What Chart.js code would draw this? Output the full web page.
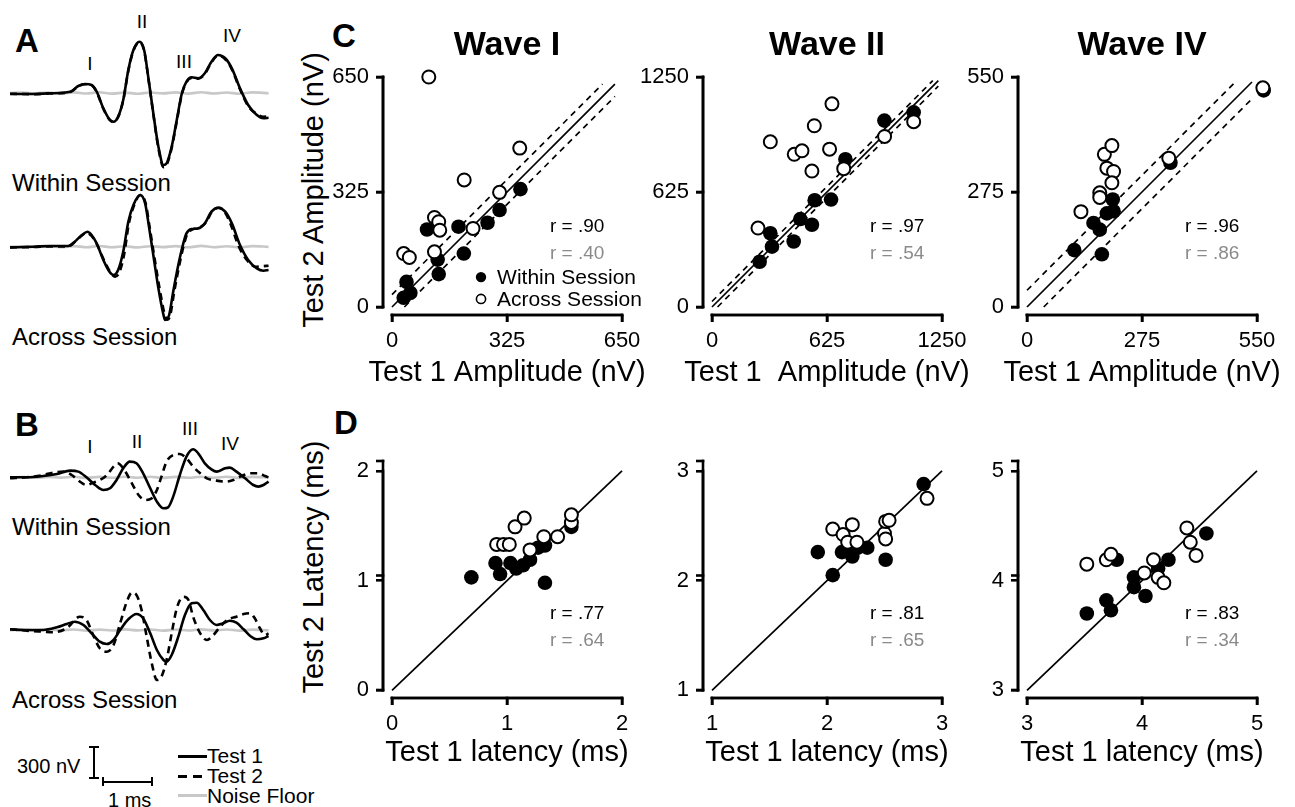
<!DOCTYPE html>
<html lang="en">
<head>
<meta charset="UTF-8" />
<title>ABR test-retest reliability</title>
<script src="https://cdn.jsdelivr.net/npm/chart.js"></script>
<style>
  body { margin: 0; background: #fff; font-family: "Liberation Sans", Arial, Helvetica, sans-serif; color: #000; }
  #fig { position: relative; width: 1295px; height: 807px; overflow: hidden; }
  .box { position: absolute; }
  .lbl { position: absolute; white-space: nowrap; line-height: 1; }
  .panel { font-weight: bold; font-size: 33px; }
  .sess { font-size: 24px; }
  .wave { font-size: 19px; transform: translateX(-50%); }
  .ytitle { font-size: 29px; transform: translate(-50%, -50%) rotate(-90deg); }
  .leg { font-size: 21px; }
  .bar { position: absolute; background: #000; }
  #axes { position: absolute; left: 0; top: 0; z-index: 10; pointer-events: none; }
</style>
</head>
<body>
<div id="fig">
  <!-- panel letters -->
  <div class="lbl panel" style="left:15px;top:24px">A</div>
  <div class="lbl panel" style="left:15px;top:408px">B</div>
  <div class="lbl panel" style="left:332px;top:19px">C</div>
  <div class="lbl panel" style="left:334px;top:406px">D</div>

  <!-- wave labels -->
  <div class="lbl wave" style="left:90px;top:54px">I</div>
  <div class="lbl wave" style="left:142px;top:12px">II</div>
  <div class="lbl wave" style="left:184px;top:52px">III</div>
  <div class="lbl wave" style="left:232px;top:26px">IV</div>
  <div class="lbl wave" style="left:90px;top:437px">I</div>
  <div class="lbl wave" style="left:137px;top:432px">II</div>
  <div class="lbl wave" style="left:190px;top:419px">III</div>
  <div class="lbl wave" style="left:230px;top:434px">IV</div>

  <div class="lbl sess" style="left:12px;top:171px">Within Session</div>
  <div class="lbl sess" style="left:12px;top:325px">Across Session</div>
  <div class="lbl sess" style="left:12px;top:515px">Within Session</div>
  <div class="lbl sess" style="left:12px;top:688px">Across Session</div>

  <!-- shared y titles -->
  <div class="lbl ytitle" style="left:313px;top:190px">Test 2 Amplitude (nV)</div>
  <div class="lbl ytitle" style="left:313px;top:567px">Test 2 Latency (ms)</div>

  <!-- scale bar -->
  <div class="lbl leg" style="left:17px;top:756px;font-size:20px">300 nV</div>
  <div class="bar" style="left:93px;top:747px;width:2px;height:31px"></div>
  <div class="bar" style="left:89px;top:746px;width:10px;height:2px"></div>
  <div class="bar" style="left:89px;top:777px;width:10px;height:2px"></div>
  <div class="bar" style="left:102px;top:781px;width:51px;height:2px"></div>
  <div class="bar" style="left:102px;top:777px;width:2px;height:9px"></div>
  <div class="bar" style="left:151px;top:777px;width:2px;height:9px"></div>
  <div class="lbl" style="left:108px;top:790px;font-size:20px">1 ms</div>

  <!-- trace legend -->
  <div class="bar" style="left:178px;top:755px;width:29px;height:2.5px"></div>
  <div class="lbl leg" style="left:207px;top:745px">Test 1</div>
  <div class="bar" style="left:178px;top:775px;width:9px;height:2.5px"></div>
  <div class="bar" style="left:193px;top:775px;width:9px;height:2.5px"></div>
  <div class="lbl leg" style="left:207px;top:765px">Test 2</div>
  <div class="bar" style="left:178px;top:794px;width:29px;height:3px;background:#c8c8c8"></div>
  <div class="lbl leg" style="left:207px;top:785px">Noise Floor</div>
</div>

<script>
  // ---------- waveform data: [time (ms), amplitude (nV)] ----------
  const aWithinTest1 = [[0.00,-10],[0.46,-10],[0.78,-3],[1.18,13],[1.34,70],[1.47,90],[1.60,80],[1.70,13],[1.83,-153],[1.95,-263],[2.03,-287],[2.12,-237],[2.22,-70],[2.32,230],[2.42,430],[2.54,513],[2.63,430],[2.71,163],[2.81,-203],[2.91,-537],[3.01,-720],[3.07,-703],[3.17,-537],[3.27,-270],[3.37,-3],[3.46,113],[3.56,157],[3.69,147],[3.82,197],[3.95,313],[4.08,380],[4.22,347],[4.35,247],[4.51,47],[4.67,-120],[4.84,-220],[4.97,-253],[5.07,-247]];
  const aWithinTest2 = [[0.00,-7],[0.46,-12],[0.78,-5],[1.18,10],[1.34,67],[1.47,87],[1.60,77],[1.70,10],[1.83,-157],[1.95,-267],[2.03,-290],[2.12,-240],[2.22,-73],[2.32,223],[2.42,423],[2.54,507],[2.63,423],[2.71,157],[2.81,-210],[2.91,-553],[3.01,-743],[3.07,-720],[3.17,-550],[3.27,-283],[3.37,-13],[3.46,107],[3.56,150],[3.69,143],[3.82,190],[3.95,307],[4.08,373],[4.22,337],[4.35,237],[4.51,37],[4.67,-130],[4.84,-210],[4.97,-237],[5.07,-233]];
  const aAcrossTest1 = [[0.00,-7],[0.46,0],[0.78,7],[1.14,7],[1.27,50],[1.41,117],[1.52,150],[1.60,117],[1.70,33],[1.83,-133],[1.95,-250],[2.03,-283],[2.12,-233],[2.22,-50],[2.32,250],[2.42,417],[2.55,517],[2.65,433],[2.73,183],[2.81,-83],[2.91,-417],[3.01,-683],[3.04,-733],[3.12,-683],[3.20,-450],[3.30,-183],[3.39,17],[3.46,133],[3.56,177],[3.69,183],[3.82,233],[3.95,350],[4.08,390],[4.22,350],[4.35,233],[4.51,17],[4.67,-133],[4.84,-217],[4.97,-240],[5.07,-233]];
  const aAcrossTest2 = [[0.00,-7],[0.46,-3],[0.78,3],[1.14,3],[1.27,47],[1.41,113],[1.50,140],[1.60,107],[1.70,27],[1.83,-120],[1.95,-240],[2.06,-300],[2.15,-250],[2.24,-70],[2.33,230],[2.43,410],[2.56,517],[2.66,433],[2.74,187],[2.82,-70],[2.93,-410],[3.04,-690],[3.09,-730],[3.14,-690],[3.22,-450],[3.32,-183],[3.41,20],[3.48,133],[3.58,173],[3.71,190],[3.84,240],[3.97,357],[4.10,390],[4.22,340],[4.33,220],[4.48,10],[4.64,-130],[4.81,-200],[4.95,-195],[5.07,-190]];

  const bWithinTest1 = [[0.00,0],[0.33,0],[0.65,13],[0.92,33],[1.18,67],[1.34,57],[1.50,0],[1.67,-77],[1.83,-127],[1.96,-110],[2.09,-27],[2.22,90],[2.35,157],[2.48,140],[2.61,40],[2.75,-110],[2.88,-243],[3.01,-310],[3.10,-300],[3.20,-193],[3.33,23],[3.46,207],[3.59,280],[3.69,240],[3.82,140],[3.95,80],[4.05,57],[4.22,90],[4.31,97],[4.44,57],[4.61,-10],[4.77,-77],[4.87,-93],[4.97,-77],[5.07,-43]];
  const bWithinTest2 = [[0.00,-10],[0.33,0],[0.65,23],[0.85,47],[1.05,57],[1.21,23],[1.37,-43],[1.50,-77],[1.63,-53],[1.76,-27],[1.90,23],[2.03,107],[2.11,140],[2.22,90],[2.39,-60],[2.52,-177],[2.65,-227],[2.78,-210],[2.88,-127],[2.97,7],[3.07,157],[3.20,223],[3.33,233],[3.46,190],[3.59,107],[3.73,40],[3.86,-10],[4.05,-33],[4.25,-43],[4.38,-27],[4.54,13],[4.71,40],[4.87,40],[5.00,13],[5.07,0]];
  const bAcrossTest1 = [[0.00,7],[0.33,0],[0.65,0],[0.92,27],[1.11,60],[1.27,83],[1.44,50],[1.60,-33],[1.76,-117],[1.90,-140],[2.03,-100],[2.16,0],[2.32,107],[2.48,160],[2.61,117],[2.75,-33],[2.88,-200],[3.01,-300],[3.07,-317],[3.17,-250],[3.30,-67],[3.43,150],[3.56,267],[3.66,273],[3.79,200],[3.92,100],[4.05,50],[4.18,67],[4.31,93],[4.44,73],[4.58,7],[4.71,-60],[4.84,-93],[4.97,-83],[5.07,-60]];
  const bAcrossTest2 = [[0.00,7],[0.33,-7],[0.65,-17],[0.85,-23],[1.11,17],[1.37,133],[1.50,100],[1.63,-50],[1.76,-183],[1.90,-217],[2.03,-150],[2.16,67],[2.29,283],[2.39,373],[2.48,350],[2.58,200],[2.68,-67],[2.78,-333],[2.88,-500],[2.97,-467],[3.07,-300],[3.17,-33],[3.27,217],[3.40,333],[3.50,300],[3.59,133],[3.73,-33],[3.86,-100],[3.99,-50],[4.12,33],[4.28,107],[4.44,133],[4.58,160],[4.71,167],[4.80,117],[4.90,17],[5.00,-50],[5.07,-33]];

  const noiseA = [[0.00,0],[0.25,4],[0.50,-3],[0.75,5],[1.00,-4],[1.25,6],[1.50,-5],[1.75,7],[2.00,-6],[2.25,4],[2.50,-7],[2.75,5],[3.00,-4],[3.25,6],[3.50,-6],[3.75,8],[4.00,-5],[4.25,5],[4.50,-7],[4.75,6],[5.07,-2]];
  const noiseB = [[0.00,-3],[0.25,3],[0.50,-5],[0.75,4],[1.00,-3],[1.25,5],[1.50,-6],[1.75,4],[2.00,-5],[2.25,6],[2.50,-4],[2.75,5],[3.00,-6],[3.25,4],[3.50,-5],[3.75,6],[4.00,-4],[4.25,5],[4.50,-6],[4.75,4],[5.07,-3]];

  // ---------- scatter data: [test 1, test 2] ----------
  const waveNames = ['Wave I', 'Wave II', 'Wave IV'];
  const ampTicks = [[0, 325, 650], [0, 625, 1250], [0, 275, 550]];
  const latTicks = [[0, 1, 2], [1, 2, 3], [3, 4, 5]];
  const ampBand = [35, 30, 40];
  const ampLineEnd = [630, 1230, 538];
  const ampR = [['.90', '.40'], ['.97', '.54'], ['.96', '.86']];
  const latR = [['.77', '.64'], ['.81', '.65'], ['.83', '.34']];
  const ampXTitles = ['Test 1 Amplitude (nV)', 'Test 1  Amplitude (nV)', 'Test 1 Amplitude (nV)'];
  const latXTitle = 'Test 1 latency (ms)';

  const ampIWithin = [[33,26],[52,40],[41,71],[99,219],[129,134],[132,93],[188,227],[203,151],[270,238],[304,274],[363,333]];
  const ampIAcross = [[104,650],[361,449],[204,359],[304,324],[120,253],[132,241],[135,217],[229,222],[120,156],[33,151],[49,140]];
  const ampIIWithin = [[259,246],[317,401],[326,328],[444,356],[480,478],[543,447],[558,580],[647,584],[725,803],[937,1013],[1096,1058]];
  const ampIIAcross = [[250,429],[317,898],[447,830],[489,849],[556,985],[543,739],[639,858],[652,1104],[716,752],[938,927],[1096,1007]];
  const ampIVWithin = [[113,136],[159,201],[174,185],[179,126],[191,224],[205,257],[207,229],[343,345],[566,518]];
  const ampIVAcross = [[129,228],[174,273],[174,262],[185,365],[203,386],[191,332],[207,324],[203,297],[339,356],[564,524]];

  const latIWithin = [[0.69,1.03],[0.90,1.16],[0.94,1.06],[1.03,1.16],[1.08,1.11],[1.14,1.14],[1.20,1.19],[1.27,1.30],[1.33,1.32],[1.33,0.98],[1.56,1.49]];
  const latIAcross = [[0.91,1.33],[0.97,1.33],[1.02,1.33],[1.07,1.49],[1.15,1.57],[1.20,1.28],[1.32,1.40],[1.44,1.40],[1.56,1.53],[1.56,1.60]];
  const latIIWithin = [[1.92,2.26],[2.05,2.05],[2.13,2.26],[2.20,2.26],[2.22,2.22],[2.27,2.30],[2.35,2.30],[2.51,2.19],[2.84,2.88]];
  const latIIAcross = [[2.05,2.47],[2.14,2.42],[2.22,2.51],[2.18,2.35],[2.26,2.35],[2.50,2.43],[2.51,2.38],[2.51,2.54],[2.54,2.55],[2.87,2.75]];
  const latIVWithin = [[3.52,3.70],[3.69,3.82],[3.73,3.73],[3.78,4.19],[3.93,4.03],[3.93,3.94],[4.03,3.86],[4.14,4.11],[4.23,4.19],[4.56,4.43]];
  const latIVAcross = [[3.52,4.15],[3.69,4.19],[3.73,4.24],[4.02,4.07],[4.10,4.19],[4.14,4.03],[4.19,3.98],[4.39,4.48],[4.42,4.35],[4.47,4.23]];

  // ---------- layout ----------
  const FONT = '"Liberation Sans", Arial, Helvetica, sans-serif';
  Chart.defaults.font.family = FONT;
  Chart.defaults.color = '#000';

  const fig = document.getElementById('fig');
  const xy = (arr) => arr.map(([x, y]) => ({ x, y }));

  function addCanvas(left, top, width, height) {
    const div = document.createElement('div');
    div.className = 'box';
    div.style.cssText = `left:${left}px;top:${top}px;width:${width}px;height:${height}px`;
    const c = document.createElement('canvas');
    div.appendChild(c);
    fig.appendChild(div);
    return c;
  }

  // waveform panels (A, B): 51 px per ms, 10 nV per px
  const PX_MS = 51, NV_PX = 10;
  function wavePanel(top, height, baseline, t1, t2, noise) {
    const c = addCanvas(10, top, 260, height);
    const yMax = (baseline - top) * NV_PX;
    new Chart(c, {
      type: 'line',
      data: {
        datasets: [
          { label: 'Test 1', data: xy(t1), borderColor: '#000', borderWidth: 2.6, order: 0 },
          { label: 'Test 2', data: xy(t2), borderColor: '#000', borderWidth: 2.6, borderDash: [7, 5], order: 1 },
          { label: 'Noise Floor', data: xy(noise), borderColor: '#c8c8c8', borderWidth: 2.6, order: 2 },
        ],
      },
      options: {
        responsive: true, maintainAspectRatio: false, animation: false, events: [],
        layout: { padding: 0 },
        datasets: { line: { clip: false } },
        elements: { point: { radius: 0 }, line: { cubicInterpolationMode: 'monotone' } },
        scales: {
          x: { type: 'linear', display: false, min: 0, max: 260 / PX_MS },
          y: { display: false, min: yMax - height * NV_PX, max: yMax },
        },
        plugins: { legend: { display: false }, tooltip: { enabled: false } },
      },
    });
  }
  wavePanel(20, 160, 93, aWithinTest1, aWithinTest2, noiseA);
  wavePanel(175, 160, 246.7, aAcrossTest1, aAcrossTest2, noiseA);
  wavePanel(420, 120, 477.3, bWithinTest1, bWithinTest2, noiseB);
  wavePanel(570, 130, 630, bAcrossTest1, bAcrossTest2, noiseB);

  // scatter panels (C, D)
  const cols = [[392, 622], [712, 942], [1027, 1257]];
  const GAPX = 9, GAPY = 8, GAPT = 7, YAXW = 75, PADR = 24, TICK = 7, LW = 2.6;

  // x title, r values and the in-plot legend
  const annot = {
    id: 'annot',
    afterDraw(chart, args, o) {
      const { ctx, chartArea: ca, scales: { x, y } } = chart;
      const [t0, t1] = o.range;
      const fx = (f) => x.getPixelForValue(t0 + f * (t1 - t0));
      const fy = (f) => y.getPixelForValue(t1 - f * (t1 - t0));
      ctx.save();
      ctx.fillStyle = '#000';
      ctx.textBaseline = 'middle';
      ctx.textAlign = 'center';
      ctx.font = '29px ' + FONT;
      ctx.fillText(o.xTitle, fx(0.5), ca.bottom + o.titleDy);

      ctx.textAlign = 'left';
      ctx.font = '19px ' + FONT;
      ctx.fillText('r = ' + o.r[0], fx(0.687), fy(0.652));
      ctx.fillStyle = '#8a8a8a';
      ctx.fillText('r = ' + o.r[1], fx(0.687), fy(0.652) + 27);

      if (o.legend) {
        ctx.font = '21px ' + FONT;
        ctx.fillStyle = '#000';
        ctx.strokeStyle = '#000';
        const lx = fx(0.387), tx = fx(0.457);
        const y1 = fy(0.87), y2 = fy(0.965);
        ctx.beginPath(); ctx.arc(lx, y1, 5.2, 0, Math.PI * 2); ctx.fill();
        ctx.fillText('Within Session', tx, y1 + 1);
        ctx.lineWidth = 1.6;
        ctx.beginPath(); ctx.arc(lx, y2, 4.6, 0, Math.PI * 2);
        ctx.fillStyle = '#fff'; ctx.fill(); ctx.stroke();
        ctx.fillStyle = '#000';
        ctx.fillText('Across Session', tx, y2 + 1);
      }
      ctx.restore();
    },
  };

  // detached spines + outward ticks, collected into one overlay drawn last
  const axisSegs = [];
  function collectSpines(pl, pr, pt, pb, ticks) {
    const t0 = ticks[0], t1 = ticks[ticks.length - 1];
    const px = (v) => pl + (v - t0) / (t1 - t0) * (pr - pl);
    const py = (v) => pb - (v - t0) / (t1 - t0) * (pb - pt);
    const yl = pl - GAPX, xb = pb + GAPY, h = LW / 2;
    axisSegs.push([yl, pt - h, yl, pb + h]);
    axisSegs.push([pl - h, xb, pr + h, xb]);
    ticks.forEach((v) => {
      axisSegs.push([yl - TICK, py(v), yl + h, py(v)]);
      axisSegs.push([px(v), xb - h, px(v), xb + TICK]);
    });
  }

  function scatterPanel(o) {
    const [pl, pr] = cols[o.col];
    const [pt, pb] = o.rowPx;
    const t0 = o.ticks[0], t1 = o.ticks[o.ticks.length - 1];
    const ux = (t1 - t0) / (pr - pl), uy = (t1 - t0) / (pb - pt);
    const cl = pl - GAPX, cr = pr + GAPX, ct = pt - GAPT, cb = pb + GAPY;
    const titleH = o.title ? 41 : 0;
    const padTop = o.title ? 0 : 10;
    const left = cl - YAXW, top = ct - titleH - padTop;
    const c = addCanvas(left, top, cr + PADR - left, cb + o.xAxisH - top);

    const xMin = t0 - GAPX * ux, yMin = t0 - GAPY * uy;
    const ticksFor = (s) => { s.ticks = o.ticks.map((v) => ({ value: v })); };
    const tickStyle = { color: '#000', font: { size: 22 }, maxRotation: 0, minRotation: 0, autoSkip: false, callback: (v) => String(v) };
    const gridStyle = { drawOnChartArea: false, drawTicks: true, tickLength: TICK, color: '#000', lineWidth: LW };

    const lines = o.lines.map((seg) => ({
      data: xy(seg.pts), showLine: true, pointRadius: 0, borderColor: '#000',
      borderWidth: 1.7, borderDash: seg.dash || [], order: 2,
    }));
    // spines as chart lines too, running along the scale minimum between first and last tick
    const spines = [
      [[xMin, t0], [xMin, t1]],
      [[t0, yMin], [t1, yMin]],
    ].map((pts) => ({
      data: xy(pts), showLine: true, pointRadius: 0, borderColor: '#000', borderWidth: LW, borderCapStyle: 'square', order: 3,
    }));

    new Chart(c, {
      type: 'scatter',
      data: {
        datasets: [
          { label: 'Across Session', data: xy(o.across), pointRadius: 6.5, pointBorderWidth: 2,
            pointBackgroundColor: '#fff', pointBorderColor: '#000', order: 0 },
          { label: 'Within Session', data: xy(o.within), pointRadius: 7.3, pointBorderWidth: 0,
            pointBackgroundColor: '#000', pointBorderColor: '#000', order: 1 },
          ...lines,
          ...spines,
        ],
      },
      options: {
        responsive: true, maintainAspectRatio: false, animation: false, events: [],
        layout: { padding: { top: padTop, right: PADR, left: 0, bottom: 0 } },
        datasets: { scatter: { clip: false } },
        scales: {
          x: {
            type: 'linear', min: xMin, max: t1 + GAPX * ux,
            afterBuildTicks: ticksFor, afterFit: (s) => { s.height = o.xAxisH; },
            border: { display: false }, grid: gridStyle,
            ticks: { ...tickStyle, padding: 6 },
          },
          y: {
            type: 'linear', min: yMin, max: t1 + GAPT * uy,
            afterBuildTicks: ticksFor, afterFit: (s) => { s.width = YAXW; },
            border: { display: false }, grid: gridStyle,
            ticks: { ...tickStyle, padding: 7 },
          },
        },
        plugins: {
          legend: { display: false }, tooltip: { enabled: false },
          title: {
            display: !!o.title, text: o.title, fullSize: false, color: '#000',
            font: { size: 34, weight: 'bold', lineHeight: 1 }, padding: { top: 0, bottom: 7 },
          },
          annot: { range: [t0, t1], r: o.r, legend: !!o.legend, xTitle: o.xTitle, titleDy: o.titleDy },
        },
      },
      plugins: [annot],
    });
    collectSpines(pl, pr, pt, pb, o.ticks);
  }

  const ampSets = [[ampIWithin, ampIAcross], [ampIIWithin, ampIIAcross], [ampIVWithin, ampIVAcross]];
  const latSets = [[latIWithin, latIAcross], [latIIWithin, latIIAcross], [latIVWithin, latIVAcross]];

  for (let i = 0; i < 3; i++) {
    const b = ampBand[i], e = ampLineEnd[i];
    scatterPanel({
      col: i, rowPx: [77, 307], ticks: ampTicks[i], title: waveNames[i], xAxisH: 75, titleDy: 58,
      xTitle: ampXTitles[i], within: ampSets[i][0], across: ampSets[i][1], r: ampR[i], legend: i === 0,
      lines: [
        { pts: [[0, 0], [e, e]] },
        { pts: [[0, b], [e - b, e]], dash: [6, 5] },
        { pts: [[b, 0], [e, e - b]], dash: [6, 5] },
      ],
    });
    const lt = latTicks[i];
    scatterPanel({
      col: i, rowPx: [461, 690], ticks: lt, title: '', xAxisH: 73, titleDy: 55,
      xTitle: latXTitle, within: latSets[i][0], across: latSets[i][1], r: latR[i],
      lines: [{ pts: [[lt[0], lt[0]], [lt[2], lt[2]]] }],
    });
  }

  // overlay with every spine and tick, on top of all canvases
  const NS = 'http://www.w3.org/2000/svg';
  const svg = document.createElementNS(NS, 'svg');
  svg.setAttribute('id', 'axes');
  svg.setAttribute('width', '1295');
  svg.setAttribute('height', '807');
  axisSegs.forEach(([x1, y1, x2, y2]) => {
    const l = document.createElementNS(NS, 'line');
    l.setAttribute('x1', x1); l.setAttribute('y1', y1);
    l.setAttribute('x2', x2); l.setAttribute('y2', y2);
    l.setAttribute('stroke', '#000');
    l.setAttribute('stroke-width', LW);
    svg.appendChild(l);
  });
  fig.appendChild(svg);
</script>
</body>
</html>
